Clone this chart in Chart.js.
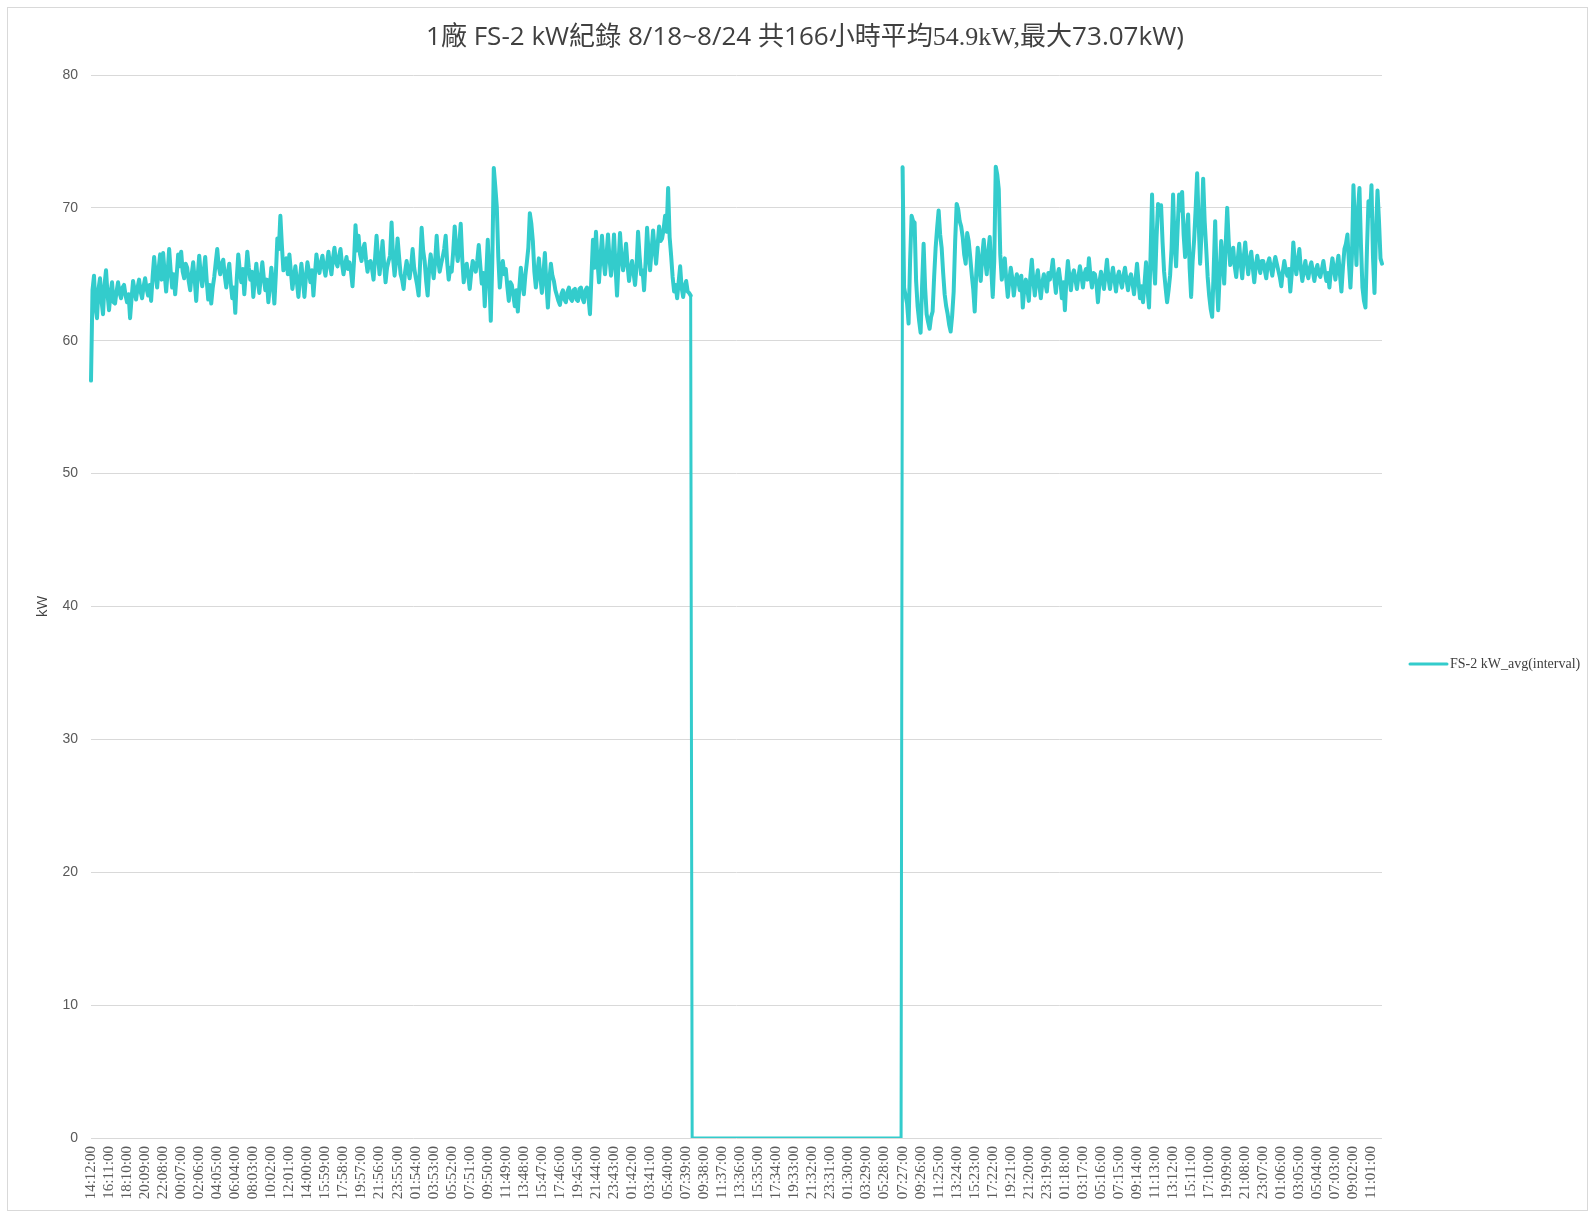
<!DOCTYPE html>
<html>
<head>
<meta charset="utf-8">
<title>1廠 FS-2 kW紀錄</title>
<script src="https://cdn.jsdelivr.net/npm/chart.js@4"></script>
<style>
  html, body { margin: 0; padding: 0; background: #fff; }
  #wrap { position: relative; width: 1590px; height: 1211px; }
  #frame { position: absolute; left: 7px; top: 7px; width: 1581px; height: 1204px; border: 1px solid #d9d9d9; box-sizing: border-box; pointer-events: none; }
</style>
</head>
<body>
<div id="wrap">
  <canvas id="chart" width="1590" height="1211"></canvas>
  <div id="frame"></div>
</div>
<script>
// title is in three runs, the middle one is set in a serif face like the original
const titleParts = ['1廠 FS-2 kW紀錄 8/18~8/24 共166小時平均', '54.9kW,', '最大73.07kW)'];
const seriesName = 'FS-2 kW_avg(interval)';

// one label every 119 min on the category axis
const tickLabels = [
  '14:12:00', '16:11:00', '18:10:00', '20:09:00', '22:08:00', '00:07:00', '02:06:00', '04:05:00',
  '06:04:00', '08:03:00', '10:02:00', '12:01:00', '14:00:00', '15:59:00', '17:58:00', '19:57:00',
  '21:56:00', '23:55:00', '01:54:00', '03:53:00', '05:52:00', '07:51:00', '09:50:00', '11:49:00',
  '13:48:00', '15:47:00', '17:46:00', '19:45:00', '21:44:00', '23:43:00', '01:42:00', '03:41:00',
  '05:40:00', '07:39:00', '09:38:00', '11:37:00', '13:36:00', '15:35:00', '17:34:00', '19:33:00',
  '21:32:00', '23:31:00', '01:30:00', '03:29:00', '05:28:00', '07:27:00', '09:26:00', '11:25:00',
  '13:24:00', '15:23:00', '17:22:00', '19:21:00', '21:20:00', '23:19:00', '01:18:00', '03:17:00',
  '05:16:00', '07:15:00', '09:14:00', '11:13:00', '13:12:00', '15:11:00', '17:10:00', '19:09:00',
  '21:08:00', '23:07:00', '01:06:00', '03:05:00', '05:04:00', '07:03:00', '09:02:00', '11:01:00'
];
const samplesPerTick = 12;

// kW readings (about 10 min apart), before the stop
const kwBeforeStop = [
  57.0, 63.8, 64.9, 62.5, 61.7, 63.9, 64.7, 63.0, 62.0, 64.2, 65.3, 63.5, 62.3, 63.6, 64.4, 62.9, 62.8, 63.7, 64.4, 63.6,
  63.2, 64.0, 64.2, 63.4, 62.9, 63.5, 61.7, 63.2, 64.5, 63.8, 63.1, 64.0, 64.6, 63.7, 63.2, 64.1, 64.7, 63.9, 63.4, 64.2,
  63.0, 64.8, 66.3, 65.0, 64.0, 65.4, 66.5, 64.6, 66.6, 65.1, 63.7, 65.2, 66.9, 65.3, 64.0, 65.0, 63.5, 64.9, 66.5, 65.6,
  66.7, 65.2, 64.7, 65.8, 65.5, 64.5, 63.8, 65.0, 65.9, 64.6, 63.0, 64.9, 66.4, 65.0, 64.1, 65.2, 66.3, 64.5, 63.1, 64.2,
  62.8, 64.0, 64.8, 65.9, 66.9, 65.6, 65.0, 65.8, 66.1, 64.9, 64.0, 65.1, 65.8, 64.3, 63.2, 64.0, 62.1, 64.7, 66.5, 65.3,
  64.4, 65.4, 63.5, 65.1, 66.7, 65.5, 64.6, 65.2, 63.3, 64.6, 65.8, 64.5, 63.6, 64.8, 65.9, 64.7, 63.8, 64.6, 62.9, 64.1,
  65.5, 64.3, 62.8, 65.0, 67.7, 66.9, 69.4, 67.2, 65.3, 65.9, 66.2, 65.0, 66.5, 65.2, 63.9, 64.8, 65.6, 64.4, 63.3, 64.7,
  65.8, 64.6, 63.3, 64.8, 65.9, 65.2, 64.4, 65.3, 63.4, 65.0, 66.5, 65.6, 65.1, 65.9, 66.4, 65.5, 64.9, 65.8, 66.7, 65.7,
  65.0, 66.2, 67.0, 65.9, 65.6, 66.3, 66.9, 65.8, 65.0, 65.7, 66.3, 65.4, 65.9, 65.2, 64.1, 66.0, 68.7, 66.8, 67.9, 66.5,
  66.0, 66.9, 67.3, 66.1, 65.2, 65.9, 66.0, 65.4, 64.6, 66.2, 67.9, 66.3, 65.0, 66.1, 67.5, 65.8, 64.4, 65.5, 66.0, 66.4,
  68.9, 66.2, 64.9, 66.0, 67.7, 66.3, 65.0, 64.6, 63.9, 65.2, 66.0, 65.3, 64.7, 65.6, 66.9, 65.5, 64.8, 64.2, 63.4, 65.9,
  68.5, 66.8, 66.0, 64.5, 63.4, 65.4, 66.5, 65.6, 64.7, 66.0, 67.9, 66.1, 65.2, 65.8, 66.3, 66.9, 67.9, 65.9, 64.6, 65.5,
  65.2, 66.7, 68.6, 67.0, 66.0, 67.1, 68.8, 66.2, 64.4, 65.3, 65.8, 64.9, 63.9, 65.1, 66.0, 65.6, 65.2, 66.0, 67.2, 65.7,
  64.3, 65.1, 62.6, 65.0, 67.6, 64.8, 61.5, 65.9, 73.0, 71.6, 70.1, 66.3, 64.0, 65.3, 66.0, 65.0, 65.4, 64.1, 63.0, 64.4,
  64.2, 63.4, 62.6, 63.8, 62.2, 64.0, 65.5, 64.3, 63.5, 64.9, 65.9, 67.0, 69.6, 68.8, 67.5, 65.2, 64.0, 65.1, 66.2, 64.8,
  63.6, 65.0, 66.6, 64.3, 62.5, 64.6, 65.8, 64.9, 64.5, 63.8, 63.4, 63.0, 62.7, 63.5, 63.8, 63.1, 62.9, 63.7, 64.0, 63.2,
  63.0, 63.8, 63.9, 63.1, 63.0, 63.9, 64.0, 63.2, 62.9, 63.8, 64.0, 63.3, 62.0, 64.9, 67.6, 65.5, 68.2, 66.0, 64.4, 66.3,
  67.9, 66.1, 65.0, 66.4, 68.0, 66.2, 64.9, 66.0, 68.0, 65.6, 63.4, 65.8, 68.1, 66.3, 65.3, 66.0, 67.3, 65.7, 64.5, 65.4,
  66.0, 65.1, 64.2, 65.6, 68.2, 66.4, 65.0, 65.3, 63.8, 65.9, 68.5, 66.6, 65.3, 66.8, 68.3, 66.9, 65.8, 67.2, 68.6, 67.5,
  67.7, 68.4, 69.4, 68.2, 71.5, 67.8, 66.4, 64.8, 63.7, 64.2, 63.2, 64.4, 65.6, 64.0, 63.3, 64.1, 64.5, 63.7, 63.6, 63.4
];

// machine stopped
const kwStopped = [
  0, 0, 0, 0, 0, 0, 0, 0, 0, 0, 0, 0, 0, 0, 0, 0, 0, 0, 0, 0,
  0, 0, 0, 0, 0, 0, 0, 0, 0, 0, 0, 0, 0, 0, 0, 0, 0, 0, 0, 0,
  0, 0, 0, 0, 0, 0, 0, 0, 0, 0, 0, 0, 0, 0, 0, 0, 0, 0, 0, 0,
  0, 0, 0, 0, 0, 0, 0, 0, 0, 0, 0, 0, 0, 0, 0, 0, 0, 0, 0, 0,
  0, 0, 0, 0, 0, 0, 0, 0, 0, 0, 0, 0, 0, 0, 0, 0, 0, 0, 0, 0,
  0, 0, 0, 0, 0, 0, 0, 0, 0, 0, 0, 0, 0, 0, 0, 0, 0, 0, 0, 0,
  0, 0, 0, 0, 0, 0, 0, 0, 0, 0, 0, 0, 0, 0, 0, 0, 0, 0, 0, 0
];

// after restart
const kwAfterRestart = [
  73.05, 64.0, 63.4, 62.8, 61.3, 66.0, 69.4, 69.0, 68.9, 64.5, 62.6, 61.5, 60.6, 64.2, 67.3, 64.0, 62.0, 61.4, 60.9, 61.8,
  62.2, 64.8, 67.0, 68.5, 69.8, 68.0, 67.0, 65.1, 63.5, 62.6, 62.0, 61.2, 60.7, 61.9, 63.7, 67.5, 70.3, 69.9, 69.0, 68.6,
  67.8, 66.5, 65.8, 68.1, 67.5, 66.3, 65.0, 63.9, 62.2, 65.0, 67.0, 65.6, 64.5, 66.4, 67.6, 66.0, 65.0, 66.7, 67.8, 65.4,
  63.3, 66.0, 73.1, 72.5, 71.4, 66.5, 64.6, 65.4, 66.2, 64.6, 63.3, 64.5, 65.5, 64.7, 63.4, 64.4, 65.0, 64.5, 63.8, 64.9,
  62.5, 64.0, 64.6, 63.9, 63.0, 64.8, 66.1, 64.5, 63.4, 64.6, 65.3, 64.2, 63.2, 64.4, 65.0, 64.3, 63.7, 65.1, 64.6, 65.2,
  66.1, 64.7, 63.6, 64.9, 65.4, 64.5, 63.2, 64.4, 62.3, 64.6, 66.0, 64.8, 63.8, 64.9, 65.3, 64.6, 63.9, 64.8, 65.6, 64.9,
  64.0, 65.0, 65.4, 64.6, 66.2, 64.9, 64.0, 65.1, 65.0, 64.3, 62.9, 64.4, 65.2, 64.6, 63.9, 65.0, 66.1, 64.7, 63.9, 64.8,
  65.5, 64.6, 63.7, 64.8, 65.2, 64.5, 64.0, 64.9, 65.5, 64.6, 63.8, 64.7, 65.0, 64.3, 63.5, 64.6, 65.8, 64.4, 63.2, 64.1,
  62.9, 64.3, 65.9, 63.8, 62.5, 66.4, 71.0, 66.0, 64.3, 67.8, 70.3, 69.6, 70.2, 67.4, 65.2, 64.0, 62.9, 63.8, 64.9, 67.0,
  71.0, 67.3, 65.6, 68.4, 71.0, 69.8, 71.2, 68.0, 66.3, 68.2, 69.5, 65.5, 63.3, 66.0, 67.6, 69.9, 72.6, 68.9, 65.8, 68.4,
  72.2, 69.0, 67.0, 64.8, 63.4, 62.4, 61.8, 65.3, 69.0, 64.5, 62.3, 65.0, 67.5, 66.0, 64.3, 67.2, 70.0, 67.5, 65.7, 66.2,
  67.0, 65.6, 64.8, 66.1, 67.3, 65.8, 64.7, 66.3, 67.4, 66.0, 65.0, 66.1, 66.7, 65.5, 64.4, 65.6, 66.4, 65.7, 65.1, 66.0,
  66.0, 65.3, 64.7, 65.8, 66.2, 65.5, 64.9, 65.7, 66.3, 65.8, 65.3, 64.8, 64.1, 65.2, 66.0, 65.3, 64.9, 65.4, 63.7, 65.1,
  67.4, 65.9, 65.0, 66.0, 66.9, 65.4, 64.5, 65.3, 66.0, 65.1, 64.7, 65.5, 65.9, 65.2, 64.5, 65.3, 65.7, 65.0, 64.8, 65.4,
  66.0, 65.2, 64.5, 65.1, 64.0, 65.3, 66.2, 65.4, 64.6, 65.6, 66.4, 65.0, 63.7, 65.5, 66.9, 67.3, 68.0, 65.8, 64.0, 66.4,
  71.7, 68.5, 65.7, 69.8, 71.5, 67.2, 64.0, 63.0, 62.5, 66.9, 70.5, 69.4, 71.7, 66.3, 63.6, 68.1, 71.3, 69.0, 66.2, 65.8
];

const kwValues = kwBeforeStop.concat(kwStopped, kwAfterRestart);
// one category per sample, only every 12th one carries a time label
const categories = kwValues.map((v, i) => (i % samplesPerTick === 0 ? (tickLabels[i / samplesPerTick] || '') : ''));

const lineColor = '#33CCCC';
const sansFace = '"Open Sans", "Noto Sans CJK TC", sans-serif';
const serifFace = '"Liberation Serif", "Noto Sans CJK TC", serif';

// title: mixed faces, stretched to the width it has in the excel export
const mixedTitle = {
  id: 'mixedTitle',
  afterDraw(chart) {
    const ctx = chart.ctx;
    const faces = [sansFace, serifFace, sansFace];
    const targetWidth = 758, centerX = 805, centerY = 38;
    ctx.save();
    let w = 0;
    titleParts.forEach((t, i) => { ctx.font = '20px ' + faces[i]; w += ctx.measureText(t).width; });
    const size = 20 * targetWidth / w;
    let x = centerX - targetWidth / 2;
    ctx.fillStyle = '#404040';
    ctx.textBaseline = 'middle';
    titleParts.forEach((t, i) => {
      ctx.font = size.toFixed(2) + 'px ' + faces[i];
      ctx.fillText(t, x, centerY);
      x += ctx.measureText(t).width;
    });
    ctx.restore();
  }
};

// legend drawn by hand, to the right of the plot like the excel one
const sideLegend = {
  id: 'sideLegend',
  afterDraw(chart) {
    const ctx = chart.ctx;
    const y = 664;
    ctx.save();
    ctx.strokeStyle = lineColor;
    ctx.lineWidth = 3;
    ctx.lineCap = 'round';
    ctx.beginPath();
    ctx.moveTo(1410, y);
    ctx.lineTo(1447, y);
    ctx.stroke();
    ctx.fillStyle = '#404040';
    ctx.font = '14px "Liberation Serif"';
    ctx.textBaseline = 'middle';
    ctx.fillText(seriesName, 1450, y);
    ctx.restore();
  }
};

new Chart(document.getElementById('chart'), {
  type: 'line',
  data: {
    labels: categories,
    datasets: [{
      label: seriesName,
      data: kwValues,
      borderColor: lineColor,
      backgroundColor: lineColor,
      borderWidth: 4,
      borderJoinStyle: 'round',
      borderCapStyle: 'round',
      pointRadius: 0,
      tension: 0,
      fill: false,
      // the stop (zero stretch) is drawn a touch thinner, as in the excel export
      segment: {
        borderWidth: c => (c.p0.parsed.y === 0 || c.p1.parsed.y === 0 ? 3 : 4)
      }
    }]
  },
  options: {
    responsive: false,
    animation: false,
    devicePixelRatio: 1,
    layout: { padding: { left: 0, right: 208, top: 75, bottom: 0 } },
    plugins: {
      legend: { display: false },
      tooltip: { enabled: false },
      title: { display: false }
    },
    scales: {
      x: {
        type: 'category',
        grid: { display: false, drawTicks: false },
        border: { display: false },
        ticks: {
          autoSkip: false,
          minRotation: 90,
          maxRotation: 90,
          padding: 8,
          color: '#595959',
          font: { family: '"Liberation Serif", serif', size: 15 }
        },
        afterFit(scale) { scale.height = 73; }
      },
      y: {
        min: 0,
        max: 80,
        ticks: {
          stepSize: 10,
          padding: 13,
          color: '#595959',
          font: { family: '"Liberation Sans", sans-serif', size: 14 }
        },
        grid: { color: '#d9d9d9', drawTicks: false },
        border: { display: false },
        title: {
          display: true,
          text: 'kW',
          color: '#404040',
          font: { family: '"Open Sans", sans-serif', size: 15 },
          padding: { top: 34, bottom: 0 }
        },
        afterFit(scale) { scale.width = 91; }
      }
    }
  },
  plugins: [mixedTitle, sideLegend]
});
</script>
</body>
</html>
